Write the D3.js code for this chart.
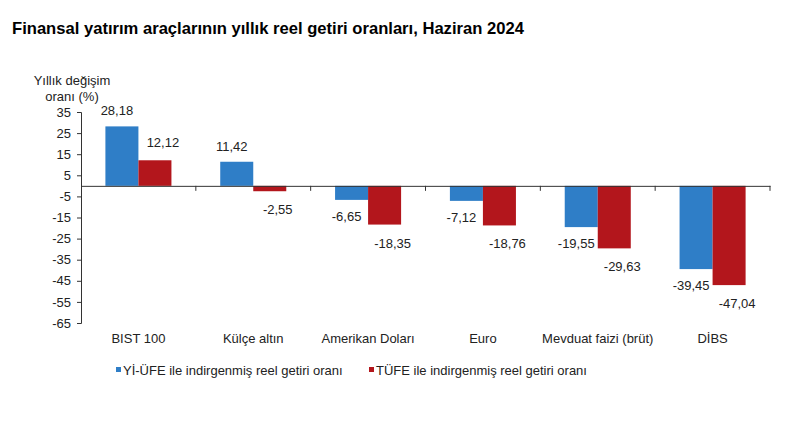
<!DOCTYPE html>
<html><head><meta charset="utf-8">
<script src="https://cdnjs.cloudflare.com/ajax/libs/d3/7.8.5/d3.min.js"></script>
<style>body{margin:0;background:#fff}svg{display:block;font-family:"Liberation Sans",Arial,sans-serif}</style>
</head><body>
<script>
const categories = ["BIST 100","Külçe altın","Amerikan Doları","Euro","Mevduat faizi (brüt)","DİBS"];
const seriesNames = ["Yİ-ÜFE ile indirgenmiş reel getiri oranı","TÜFE ile indirgenmiş reel getiri oranı"];
const yiufe = [28.18, 11.42, -6.65, -7.12, -19.55, -39.45];
const tufe = [12.12, -2.55, -18.35, -18.76, -29.63, -47.04];
const yTicks = [35,25,15,5,-5,-15,-25,-35,-45,-55,-65];
const colors = ["#2F7EC7","#B3161C"];

const W=805,H=422;
const svg=d3.select("body").append("svg").attr("width",W).attr("height",H);
const pLeft=81,pRight=770,pTop=112,pBottom=323;
const y=d3.scaleLinear().domain([-65,35]).range([pBottom,pTop]);
const x=d3.scaleBand().domain(categories).range([pLeft,pRight]).padding(0);
const groupFrac=0.575;
const x1=d3.scaleBand().domain([0,1]).range([0,x.bandwidth()*groupFrac]).padding(0);
const fmt=v=>v.toFixed(2).replace(".",",");

svg.append("text").attr("x",12).attr("y",34).attr("font-size",16.6).attr("font-weight","bold").attr("fill","#000")
  .text("Finansal yatırım araçlarının yıllık reel getiri oranları, Haziran 2024");

svg.append("text").attr("x",72).attr("y",85).attr("text-anchor","middle").attr("font-size",13).attr("fill","#222").text("Yıllık değişim");
svg.append("text").attr("x",72).attr("y",101).attr("text-anchor","middle").attr("font-size",13).attr("fill","#222").text("oranı (%)");

// y axis
const ya=svg.append("g").attr("transform",`translate(${pLeft},0)`)
  .call(d3.axisLeft(y).tickValues(yTicks).tickSize(4).tickPadding(6).tickFormat(d=>d));
ya.select(".domain").attr("stroke","#333");
ya.selectAll(".tick line").attr("stroke","#333");
ya.selectAll(".tick text").attr("font-size",13).attr("fill","#222").attr("font-family","Liberation Sans, Arial");

const data=[yiufe,tufe];
const g=svg.append("g");
categories.forEach((c,i)=>{
  const gx=x(c)+(x.bandwidth()*(1-groupFrac))/2;
  data.forEach((s,j)=>{
    const v=s[i];
    g.append("rect").attr("x",gx+x1(j)).attr("width",x1.bandwidth())
      .attr("y",y(Math.max(0,v))).attr("height",Math.abs(y(v)-y(0))).attr("fill",colors[j]);
    const dx = j===0 ? -5 : 8;
    const off = j===0 ? 12 : 14;
    const ly = v>=0 ? y(v)-off+1 : y(v)+off+9;
    g.append("text").attr("x",gx+x1(j)+x1.bandwidth()/2+dx).attr("y",ly).attr("text-anchor","middle")
      .attr("font-size",13).attr("fill","#222").text(fmt(v));
  });
});

// zero line with ticks
const xa=svg.append("g").attr("transform",`translate(0,${y(0)})`)
  .call(d3.axisBottom(x).tickSize(0).tickFormat(""));
xa.select(".domain").attr("stroke","#333");
xa.selectAll(".tick").remove();
const bounds=categories.map(c=>x(c)+x.bandwidth());
svg.append("g").selectAll("line").data(bounds).join("line")
  .attr("x1",d=>d).attr("x2",d=>d).attr("y1",y(0)).attr("y2",y(0)+5).attr("stroke","#333");

svg.append("g").selectAll("text").data(categories).join("text")
  .attr("x",d=>x(d)+x.bandwidth()/2).attr("y",343).attr("text-anchor","middle")
  .attr("font-size",13).attr("fill","#222").text(d=>d);

// legend
const legX=[116,369];
seriesNames.forEach((n,j)=>{
  svg.append("rect").attr("x",legX[j]).attr("y",367).attr("width",5).attr("height",5).attr("fill",colors[j]);
  svg.append("text").attr("x",legX[j]+7).attr("y",375).attr("font-size",13).attr("fill","#222").text(n);
});
</script>
</body></html>
